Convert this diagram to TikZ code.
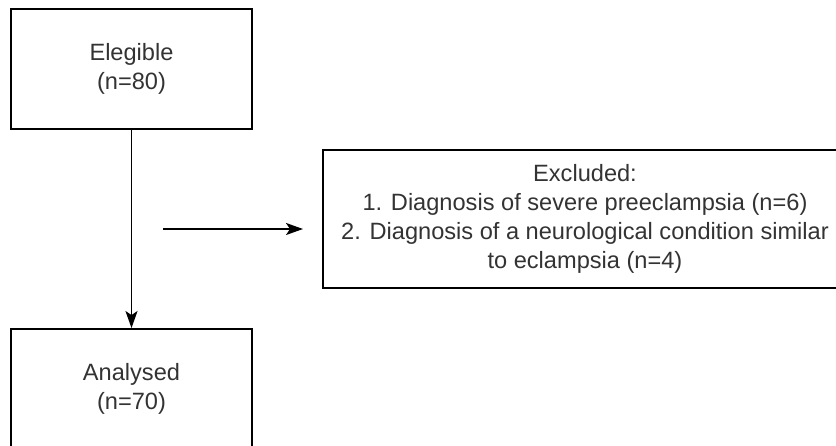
\documentclass[tikz,border=0pt]{standalone}
\usepackage{fontspec}
\setmainfont{Liberation Sans}
\usetikzlibrary{arrows.meta}
\definecolor{txt}{HTML}{333333}
\begin{document}
\begin{tikzpicture}[x=1pt,y=-1pt,
  box/.style={draw, line width=1.9pt, align=center, text=txt,
    font=\fontsize{23.6}{29}\selectfont, inner sep=0pt},
  conn/.style={line width=1.9pt, -{Stealth[length=17pt,width=12pt,inset=4pt]}}]
\useasboundingbox (0,0) rectangle (836,445);
\clip (0,0) rectangle (836,445);
\node[box, minimum width=241pt, minimum height=120pt] (elig) at (131.5,69) {Elegible\\(n=80)};
\node[box, minimum width=241pt, minimum height=120pt] (anal) at (131.5,389) {Analysed\\(n=70)};
\node[box, minimum width=524pt, minimum height=138pt] (excl) at (585,219)
  {Excluded:\\1. Diagnosis of severe preeclampsia (n=6)\\2. Diagnosis of a neurological condition similar\\to eclampsia (n=4)};
\coordinate (hs) at (163,229);
\coordinate (he) at (303,229);
\draw[conn] (elig.south) -- (anal.north);
\draw[conn] (hs) -- (he);
\end{tikzpicture}
\end{document}
